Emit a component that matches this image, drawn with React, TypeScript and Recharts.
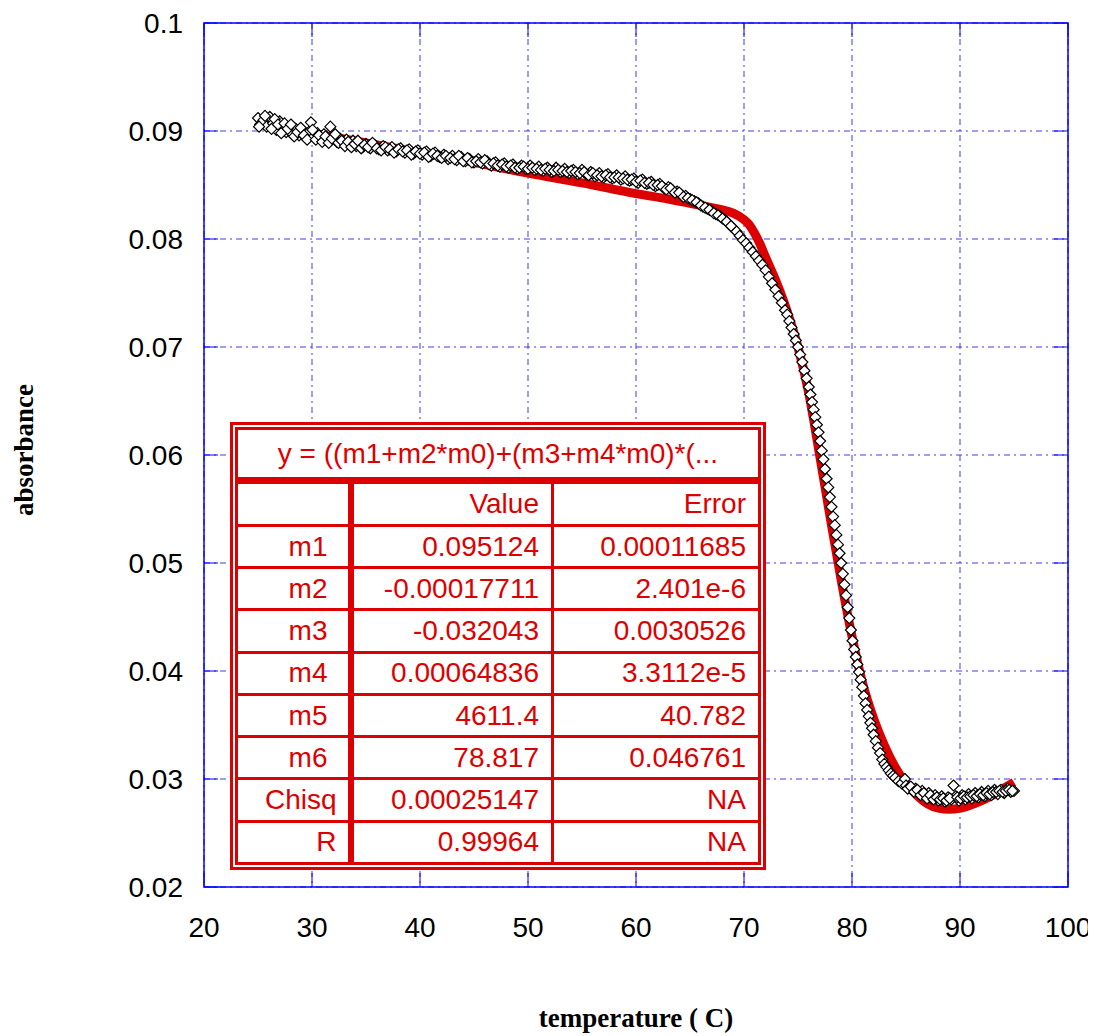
import React from 'react';
import { ComposedChart, Line, Scatter, XAxis, YAxis, CartesianGrid, ReferenceArea } from 'recharts';

// ---- data ----
const X_TICKS = [20, 30, 40, 50, 60, 70, 80, 90, 100];
const X_TICK_LABELS = ['20', '30', '40', '50', '60', '70', '80', '90', '100'];
const Y_TICKS = [0.02, 0.03, 0.04, 0.05, 0.06, 0.07, 0.08, 0.09, 0.1];
const Y_TICK_LABELS = ['0.02', '0.03', '0.04', '0.05', '0.06', '0.07', '0.08', '0.09', '0.1'];

// fitted curve (red)
const FIT_T = [25, 30, 35, 40, 45, 50, 55, 60, 63, 65, 67, 68, 69, 70, 70.5, 71, 71.5, 72, 73, 74, 75, 76, 77, 78, 79, 80, 81, 82, 83, 84, 85, 86, 87, 88, 89, 90, 91, 92, 93, 94, 95];
const FIT_A = [0.0907, 0.0898, 0.0889, 0.0880, 0.0871, 0.0861, 0.0852, 0.0842, 0.0837, 0.0833, 0.0829, 0.0827, 0.0824, 0.0818, 0.0813, 0.0805, 0.0795, 0.0783, 0.0760, 0.0733, 0.0700, 0.0657, 0.0600, 0.0541, 0.0484, 0.0432, 0.0388, 0.0356, 0.0331, 0.0311, 0.0296, 0.0285, 0.0277, 0.0273, 0.0272, 0.0273, 0.0276, 0.0280, 0.0285, 0.0291, 0.0297];

// measured points (diamonds): [temperature, absorbance]
const MEASURED: [number, number][] = [
  [25.0, 0.0912], [25.2, 0.0906], [25.5, 0.0910], [25.8, 0.0904], [26.1, 0.0913], [26.4, 0.0907], [26.7, 0.0901],
  [27.0, 0.0909], [27.3, 0.0904], [27.6, 0.0899], [27.9, 0.0903], [28.2, 0.0897], [28.5, 0.0902], [28.8, 0.0896],
  [29.1, 0.0900], [29.4, 0.0894], [29.7, 0.0899], [29.9, 0.0908], [30.2, 0.0895], [30.5, 0.0898], [30.8, 0.0893],
  [31.1, 0.0897], [31.4, 0.0891], [31.7, 0.0904], [32.0, 0.0894], [32.3, 0.0890], [32.6, 0.0893], [32.9, 0.0888],
  [33.2, 0.0892], [33.5, 0.0887], [33.8, 0.0891], [34.1, 0.0886], [34.4, 0.0889], [34.7, 0.0885], [35.0, 0.0888],
  [35.4, 0.0884], [35.8, 0.0887], [36.2, 0.0883], [36.6, 0.0886], [37.0, 0.0882], [37.4, 0.0885], [37.8, 0.0881],
  [38.2, 0.0884], [38.6, 0.0880], [39.0, 0.0883], [39.4, 0.0879], [39.8, 0.0882], [40.2, 0.0878], [40.6, 0.0881],
  [41.0, 0.0877], [41.4, 0.0880], [41.8, 0.0876], [42.2, 0.0878], [42.6, 0.0874], [43.0, 0.0877], [43.4, 0.0873],
  [43.8, 0.0876], [44.2, 0.0872], [44.6, 0.0874], [45.0, 0.0871], [45.4, 0.0874], [45.8, 0.0870], [46.2, 0.0872],
  [46.6, 0.0868], [47.0, 0.0871], [47.4, 0.0867], [47.8, 0.0870], [48.2, 0.0866], [48.6, 0.0869], [49.0, 0.0865],
  [49.4, 0.0868], [49.8, 0.0865], [50.2, 0.0868], [50.6, 0.0864], [51.0, 0.0867], [51.4, 0.0863], [51.8, 0.0866],
  [52.2, 0.0862], [52.6, 0.0866], [53.0, 0.0862], [53.4, 0.0865], [53.8, 0.0861], [54.2, 0.0864], [54.6, 0.0860],
  [55.0, 0.0864], [55.4, 0.0860], [55.8, 0.0862], [56.2, 0.0858], [56.6, 0.0861], [57.0, 0.0857], [57.4, 0.0860],
  [57.8, 0.0856], [58.2, 0.0859], [58.6, 0.0855], [59.0, 0.0858], [59.4, 0.0854], [59.8, 0.0856], [60.2, 0.0852],
  [60.6, 0.0855], [61.0, 0.0851], [61.4, 0.0853], [61.8, 0.0849], [62.2, 0.0851], [62.6, 0.0847], [63.0, 0.0848],
  [63.4, 0.0845], [63.8, 0.0844], [64.2, 0.0841], [64.6, 0.0840], [65.0, 0.0837], [65.4, 0.0835], [65.8, 0.0833],
  [66.2, 0.0830], [66.6, 0.0828], [67.0, 0.0826], [67.4, 0.0823], [67.8, 0.0821], [68.2, 0.0818], [68.6, 0.0814],
  [69.0, 0.0810], [69.3, 0.0807], [69.6, 0.0803], [69.9, 0.0799], [70.2, 0.0796], [70.5, 0.0792], [70.8, 0.0788],
  [71.1, 0.0784], [71.4, 0.0780], [71.7, 0.0776], [72.0, 0.0771], [72.3, 0.0765], [72.6, 0.0759], [72.9, 0.0753],
  [73.2, 0.0747], [73.5, 0.0741], [73.8, 0.0734], [74.0, 0.0730], [74.2, 0.0724], [74.4, 0.0718], [74.6, 0.0712],
  [74.8, 0.0706], [75.0, 0.0700], [75.2, 0.0693], [75.4, 0.0686], [75.6, 0.0678], [75.8, 0.0671], [76.0, 0.0663],
  [76.15, 0.0656], [76.3, 0.0649], [76.45, 0.0642], [76.6, 0.0635], [76.75, 0.0628], [76.9, 0.0621], [77.05, 0.0613],
  [77.2, 0.0604], [77.35, 0.0596], [77.5, 0.0587], [77.65, 0.0578], [77.8, 0.0570], [77.95, 0.0561], [78.1, 0.0552],
  [78.25, 0.0543], [78.4, 0.0535], [78.55, 0.0526], [78.7, 0.0517], [78.85, 0.0509], [79.0, 0.0500], [79.15, 0.0490],
  [79.3, 0.0480], [79.45, 0.0470], [79.6, 0.0459], [79.75, 0.0449], [79.9, 0.0438], [80.05, 0.0428], [80.2, 0.0420],
  [80.35, 0.0413], [80.5, 0.0406], [80.65, 0.0399], [80.8, 0.0392], [80.95, 0.0385], [81.1, 0.0377], [81.25, 0.0370],
  [81.4, 0.0364], [81.55, 0.0358], [81.7, 0.0352], [81.85, 0.0347], [82.0, 0.0341], [82.2, 0.0335], [82.4, 0.0329],
  [82.6, 0.0324], [82.8, 0.0318], [83.0, 0.0314], [83.2, 0.0311], [83.4, 0.0308], [83.6, 0.0305], [83.8, 0.0303],
  [84.0, 0.0301], [84.3, 0.0298], [84.6, 0.0296], [84.9, 0.0300], [85.0, 0.0294], [85.3, 0.0292], [85.6, 0.0290],
  [85.9, 0.0291], [86.2, 0.0287], [86.5, 0.0289], [86.8, 0.0284], [87.1, 0.0287], [87.4, 0.0282], [87.7, 0.0285],
  [88.0, 0.0280], [88.3, 0.0284], [88.6, 0.0279], [88.9, 0.0283], [89.2, 0.0281], [89.4, 0.0294], [89.6, 0.0284],
  [89.9, 0.0280], [90.2, 0.0285], [90.5, 0.0281], [90.8, 0.0286], [91.1, 0.0282], [91.4, 0.0287], [91.7, 0.0283],
  [92.0, 0.0288], [92.3, 0.0284], [92.6, 0.0289], [92.9, 0.0285], [93.2, 0.0290], [93.5, 0.0286], [93.8, 0.0290],
  [94.1, 0.0287], [94.4, 0.0291], [94.7, 0.0288], [95.0, 0.0289],
];

// further measured points lying between the ones above
const MEASURED_B: [number, number][] = [
  [25.1, 0.0904], [25.65, 0.0914], [26.25, 0.0902], [26.55, 0.0911], [26.85, 0.0906], [27.15, 0.0898], [27.45, 0.0907],
  [27.75, 0.0902], [28.05, 0.0906], [28.35, 0.0895], [28.65, 0.0899], [28.95, 0.0903], [29.25, 0.0896], [29.55, 0.0892],
  [30.05, 0.0901], [30.35, 0.0892], [30.65, 0.0896], [30.95, 0.0890], [31.25, 0.0895], [31.55, 0.0889], [31.85, 0.0893],
  [32.15, 0.0897], [32.45, 0.0889], [32.75, 0.0891], [33.05, 0.0886], [33.35, 0.0890], [33.65, 0.0885], [33.95, 0.0888],
  [34.25, 0.0891], [34.55, 0.0884], [34.85, 0.0887], [35.2, 0.0885], [35.6, 0.0889], [36.0, 0.0884], [36.4, 0.0882],
  [36.8, 0.0885], [37.2, 0.0883], [37.6, 0.0880], [38.0, 0.0883], [38.4, 0.0881], [38.8, 0.0882], [39.2, 0.0878],
  [39.6, 0.0881], [40.0, 0.0879], [40.4, 0.0880], [40.8, 0.0876], [41.2, 0.0879], [41.6, 0.0877], [42.0, 0.0875],
  [42.4, 0.0877], [42.8, 0.0875], [43.2, 0.0874], [43.6, 0.0877], [44.0, 0.0872], [44.4, 0.0875], [44.8, 0.0871],
  [45.2, 0.0872], [45.6, 0.0871], [46.0, 0.0873], [46.4, 0.0869], [46.8, 0.0870], [47.2, 0.0868], [47.6, 0.0869],
  [48.0, 0.0867], [48.4, 0.0868], [48.8, 0.0866], [49.2, 0.0866], [49.6, 0.0867], [50.0, 0.0865], [50.4, 0.0866],
  [50.8, 0.0865], [51.2, 0.0864], [51.6, 0.0865], [52.0, 0.0864], [52.4, 0.0863], [52.8, 0.0864], [53.2, 0.0863],
  [53.6, 0.0862], [54.0, 0.0863], [54.4, 0.0862], [54.8, 0.0861], [55.2, 0.0862], [55.6, 0.0859], [56.0, 0.0861],
  [56.4, 0.0859], [56.8, 0.0858], [57.2, 0.0859], [57.6, 0.0857], [58.0, 0.0857], [58.4, 0.0857], [58.8, 0.0856],
  [59.2, 0.0855], [59.6, 0.0855], [60.0, 0.0853], [60.4, 0.0854], [60.8, 0.0852], [61.2, 0.0852], [61.6, 0.0850],
  [62.0, 0.0850], [62.4, 0.0849], [62.8, 0.0846], [63.2, 0.0847], [63.6, 0.0843], [64.0, 0.0843], [64.4, 0.0839],
  [64.8, 0.0838], [65.2, 0.0836], [65.6, 0.0834], [66.0, 0.0831], [66.4, 0.0829], [66.8, 0.0827], [67.2, 0.0824],
  [67.6, 0.0822], [68.0, 0.0819], [68.4, 0.0816], [68.8, 0.0812],
  [85.15, 0.0291], [85.45, 0.0293], [85.75, 0.0288], [86.05, 0.0290], [86.35, 0.0285], [86.65, 0.0287], [86.95, 0.0282],
  [87.25, 0.0285], [87.55, 0.0281], [87.85, 0.0283], [88.15, 0.0281], [88.45, 0.0282], [88.75, 0.0280], [89.05, 0.0282],
  [89.75, 0.0283], [90.05, 0.0282], [90.35, 0.0284], [90.65, 0.0283], [90.95, 0.0284], [91.25, 0.0285], [91.55, 0.0284],
  [91.85, 0.0286], [92.15, 0.0285], [92.45, 0.0287], [92.75, 0.0286], [93.05, 0.0288], [93.35, 0.0288], [93.65, 0.0289],
  [93.95, 0.0288], [94.25, 0.0289], [94.55, 0.0290], [94.85, 0.0289],
];

// fit result table
const FIT_TITLE = 'y = ((m1+m2*m0)+(m3+m4*m0)*(...';
const TABLE_HEADERS = ['', 'Value', 'Error'];
const PARAM_NAMES = ['m1', 'm2', 'm3', 'm4', 'm5', 'm6', 'Chisq', 'R'];
const PARAM_VALUES = ['0.095124', '-0.00017711', '-0.032043', '0.00064836', '4611.4', '78.817', '0.00025147', '0.99964'];
const PARAM_ERRORS = ['0.00011685', '2.401e-6', '0.0030526', '3.3112e-5', '40.782', '0.046761', 'NA', 'NA'];

const X_TITLE = 'temperature ( C)';
const Y_TITLE = 'absorbance';

// ---- derived tables ----
const fitData = FIT_T.map((t, i) => ({ t, a: FIT_A[i] }));
const measuredData = [...MEASURED, ...MEASURED_B].map(([t, a]) => ({ t, a }));

// ---- styling ----
const RED = '#dd0000';
const BLUE = '#0000ff';
const GRID = '#3c3cf0';
const W = 1088;
const H = 1020;
const MARGIN = { top: 15, right: 28, left: 0, bottom: 81 };
const PLOT_W = 864;
const PLOT_H = 864;
const INNER_TICK = 14;
const Y_TICK_GAP = 21;
const X_TICK_GAP = 30;
const SANS = '"Liberation Sans", Arial, Helvetica, sans-serif';
const SERIF = '"Liberation Serif", "Times New Roman", Times, serif';

const Diamond = (props: any) => {
  const { cx, cy } = props;
  if (cx == null || cy == null) return null;
  const r = 5.5;
  return (
    <path
      d={`M${cx},${cy - r}L${cx + r},${cy}L${cx},${cy + r}L${cx - r},${cy}Z`}
      fill="#ffffff"
      stroke="#000000"
      strokeWidth={1.2}
    />
  );
};

const XTick = (props: any) => {
  const { x, y, index } = props;
  const axisY = y - X_TICK_GAP;
  return (
    <g>
      <line x1={x} x2={x} y1={axisY} y2={axisY - INNER_TICK} stroke={BLUE} strokeWidth={1} />
      <line x1={x} x2={x} y1={axisY - PLOT_H} y2={axisY - PLOT_H + INNER_TICK} stroke={BLUE} strokeWidth={1} />
      <text x={x} y={y} dy="0.71em" textAnchor="middle" fontFamily={SANS} fontSize={28} fill="#000">
        {X_TICK_LABELS[index]}
      </text>
    </g>
  );
};

const YTick = (props: any) => {
  const { x, y, index } = props;
  const axisX = x + Y_TICK_GAP;
  return (
    <g>
      <line x1={axisX} x2={axisX + INNER_TICK} y1={y} y2={y} stroke={BLUE} strokeWidth={1} />
      <line x1={axisX + PLOT_W} x2={axisX + PLOT_W - INNER_TICK} y1={y} y2={y} stroke={BLUE} strokeWidth={1} />
      <text x={x} y={y} dy="0.36em" textAnchor="end" fontFamily={SANS} fontSize={28} fill="#000">
        {Y_TICK_LABELS[index]}
      </text>
    </g>
  );
};

const cell = (extra: React.CSSProperties = {}): React.CSSProperties => ({
  border: `3px solid ${RED}`,
  textAlign: 'right',
  padding: '0 12px 0 0',
  whiteSpace: 'nowrap',
  overflow: 'hidden',
  lineHeight: 1,
  ...extra,
});

const FitTable = () => (
  <div
    style={{
      position: 'absolute',
      left: 222,
      top: 414,
      width: 536,
      height: 448,
      boxSizing: 'border-box',
      border: `3px solid ${RED}`,
      padding: 2,
      background: '#ffffff',
    }}
  >
    <table
      style={{
        width: '100%',
        height: '100%',
        borderCollapse: 'collapse',
        tableLayout: 'fixed',
        fontFamily: SANS,
        fontSize: 28,
        color: RED,
        background: '#ffffff',
      }}
    >
      <colgroup>
        <col style={{ width: 114 }} />
        <col style={{ width: 202 }} />
        <col />
      </colgroup>
      <tbody>
        <tr style={{ height: 52 }}>
          <td colSpan={3} style={cell({ textAlign: 'center', padding: 0, borderBottom: `7px solid ${RED}` })}>
            {FIT_TITLE}
          </td>
        </tr>
        <tr>
          {TABLE_HEADERS.map((h, i) => (
            <td key={i} style={cell(i === 0 ? { borderRight: `6px solid ${RED}` } : {})}>
              {h}
            </td>
          ))}
        </tr>
        {PARAM_NAMES.map((name, i) => (
          <tr key={name}>
            <td style={cell({ borderRight: `6px solid ${RED}`, paddingRight: name.startsWith('m') ? 20 : 11 })}>{name}</td>
            <td style={cell()}>{PARAM_VALUES[i]}</td>
            <td style={cell({ paddingRight: 12 })}>{PARAM_ERRORS[i]}</td>
          </tr>
        ))}
      </tbody>
    </table>
  </div>
);

export default function App() {
  return (
    <div style={{ position: 'relative', width: W, height: 1028, background: '#ffffff' }}>
      <ComposedChart width={W} height={H} margin={MARGIN}>
        <CartesianGrid stroke={GRID} strokeWidth={1} strokeDasharray="6 4 2 4" />
        <XAxis
          dataKey="t"
          type="number"
          domain={[20, 100]}
          ticks={X_TICKS}
          interval={0}
          height={60}
          axisLine={false}
          tickLine={false}
          tickSize={0}
          tickMargin={X_TICK_GAP}
          tick={<XTick />}
          allowDataOverflow
        />
        <YAxis
          type="number"
          domain={[0.02, 0.1]}
          ticks={Y_TICKS}
          interval={0}
          width={196}
          axisLine={false}
          tickLine={false}
          tickSize={0}
          tickMargin={Y_TICK_GAP}
          tick={<YTick />}
          allowDataOverflow
        />
        <ReferenceArea x1={20} x2={100} y1={0.02} y2={0.1} fill="none" stroke={BLUE} strokeWidth={1.5} />
        <Line
          data={fitData}
          dataKey="a"
          type="monotone"
          stroke={RED}
          strokeWidth={9}
          dot={false}
          activeDot={false}
          isAnimationActive={false}
          legendType="none"
        />
        <Scatter
          data={measuredData}
          dataKey="a"
          shape={<Diamond />}
          isAnimationActive={false}
          legendType="none"
        />
      </ComposedChart>
      <FitTable />
      <svg
        width={W}
        height={1028}
        style={{ position: 'absolute', left: 0, top: 0, pointerEvents: 'none' }}
      >
        <text x={628} y={1019} textAnchor="middle" fontFamily={SERIF} fontWeight="bold" fontSize={27} fill="#000">
          {X_TITLE}
        </text>
        <text
          x={25}
          y={442}
          transform="rotate(-90 25 442)"
          textAnchor="middle"
          fontFamily={SERIF}
          fontWeight="bold"
          fontSize={27}
          fill="#000"
        >
          {Y_TITLE}
        </text>
      </svg>
    </div>
  );
}
